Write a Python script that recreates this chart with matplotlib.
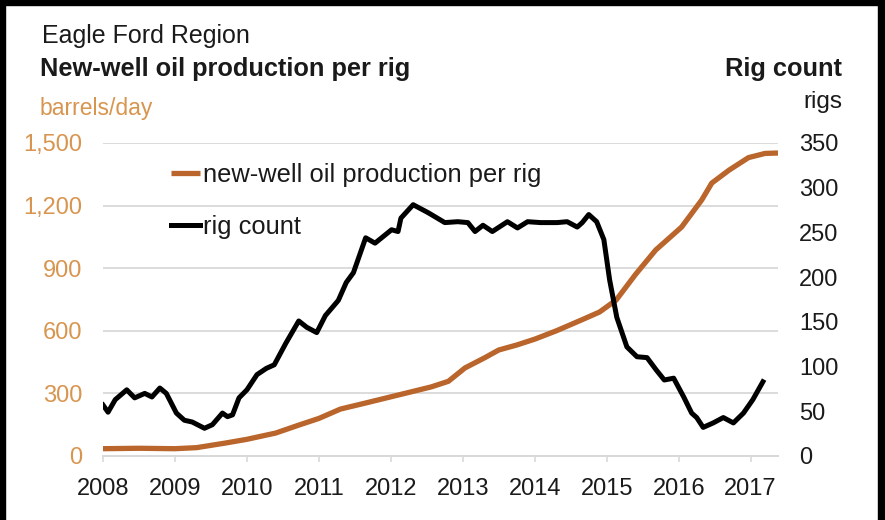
import matplotlib
matplotlib.use("Agg")
import matplotlib.pyplot as plt
from matplotlib.patches import Rectangle

plt.rcParams['font.family'] = ['Liberation Sans', 'DejaVu Sans']

# ---- data ----
prod_years = [2008.0, 2008.5, 2009.0, 2009.3, 2009.7, 2010.0, 2010.4, 2010.72, 2011.0,
              2011.3, 2011.65, 2012.1, 2012.56, 2012.8, 2013.03, 2013.3, 2013.5, 2013.75,
              2014.0, 2014.3, 2014.65, 2014.9, 2015.13, 2015.4, 2015.68, 2016.04, 2016.32,
              2016.46, 2016.7, 2016.97, 2017.2, 2017.38]
prod_values = [35, 37, 35, 40, 62, 80, 110, 148, 180,
               225, 254, 292, 331, 358, 422, 470, 508, 532,
               560, 600, 652, 690, 747, 870, 987, 1097, 1227,
               1308, 1370, 1430, 1450, 1452]

rig_years = [2008.0, 2008.07, 2008.17, 2008.33, 2008.44, 2008.58, 2008.68, 2008.79, 2008.88,
             2009.02, 2009.13, 2009.24, 2009.41, 2009.52, 2009.66, 2009.73, 2009.80, 2009.89,
             2010.0, 2010.14, 2010.27, 2010.38, 2010.54, 2010.72, 2010.83, 2010.97, 2011.09,
             2011.27, 2011.38, 2011.48, 2011.65, 2011.78, 2012.01, 2012.10, 2012.14, 2012.31,
             2012.52, 2012.75, 2012.93, 2013.07, 2013.17, 2013.28, 2013.41, 2013.62, 2013.76,
             2013.90, 2014.08, 2014.31, 2014.45, 2014.59, 2014.66, 2014.75, 2014.86, 2014.96,
             2015.04, 2015.14, 2015.28, 2015.42, 2015.56, 2015.69, 2015.80, 2015.93, 2016.07,
             2016.18, 2016.25, 2016.34, 2016.48, 2016.62, 2016.76, 2016.90, 2017.03, 2017.17]
rig_values = [57, 49, 63, 74, 65, 70, 66, 76, 70,
              48, 40, 38, 31, 35, 48, 44, 46, 65,
              74, 91, 98, 102, 126, 151, 144, 138, 157,
              174, 194, 205, 244, 238, 253, 251, 266, 281,
              272, 261, 262, 261, 251, 258, 251, 262, 255,
              262, 261, 261, 262, 256, 261, 270, 262, 242,
              197, 155, 122, 111, 110, 96, 85, 87, 66,
              48, 43, 32, 37, 43, 37, 48, 63, 83]

year_ticks = list(range(2008, 2018))
left_ticks = [0, 300, 600, 900, 1200, 1500]
left_labels = ['0', '300', '600', '900', '1,200', '1,500']
right_ticks = [0, 50, 100, 150, 200, 250, 300, 350]

ORANGE = '#B9652B'
LIGHT_ORANGE = '#D8954F'
GRID = '#D9D9D9'
TXT = '#1a1a1a'

W, H = 885, 520
fig = plt.figure(figsize=(W / 100, H / 100), dpi=100)
ax = fig.add_axes([103 / W, 1 - 456 / H, 675 / W, 313 / H])
ax2 = ax.twinx()

lp, = ax.plot(prod_years, prod_values, color=ORANGE, lw=3.8, solid_capstyle='butt', zorder=3)
lr, = ax2.plot(rig_years, rig_values, color='black', lw=3.6, solid_joinstyle='round', zorder=3)

ax.set_xlim(2008, 2017.38)
ax.set_ylim(0, 1500)
ax2.set_ylim(0, 350)
ax.set_yticks(left_ticks)
ax.set_yticklabels(left_labels)
ax2.set_yticks(right_ticks)
ax.set_xticks(year_ticks)

ax.grid(axis='y', color=GRID, lw=1.3, zorder=0)
ax.set_axisbelow(True)
for a in (ax, ax2):
    for s in ('top', 'left', 'right'):
        a.spines[s].set_visible(False)
    a.spines['bottom'].set_color(GRID)
    a.spines['bottom'].set_linewidth(1.3)

ax.tick_params(axis='y', length=0, pad=15, labelsize=17, labelcolor=LIGHT_ORANGE)
ax2.tick_params(axis='y', length=0, pad=15, labelsize=17, labelcolor=TXT)
ax.tick_params(axis='x', length=4.5, width=1.2, color=GRID, pad=11, labelsize=17, labelcolor=TXT)

ax.legend([lp, lr], ['new-well oil production per rig', 'rig count'],
          loc='upper left', bbox_to_anchor=(0.085, 0.97), frameon=False,
          fontsize=18.4, handlelength=1.15, handletextpad=0.1, labelspacing=1.1,
          borderaxespad=0, labelcolor=TXT)

fig.text(42 / W, 1 - 43 / H, 'Eagle Ford Region', fontsize=18, color=TXT, va='baseline')
fig.text(40 / W, 1 - 76 / H, 'New-well oil production per rig', fontsize=18.3,
         fontweight='bold', color=TXT, va='baseline')
fig.text(40 / W, 1 - 115 / H, 'barrels/day', fontsize=16.5, color=LIGHT_ORANGE, va='baseline')
fig.text(842 / W, 1 - 76 / H, 'Rig count', fontsize=18.3, fontweight='bold', color=TXT,
         va='baseline', ha='right')
fig.text(842 / W, 1 - 108 / H, 'rigs', fontsize=17.5, color=TXT, va='baseline', ha='right')

# black frame
fig.add_artist(Rectangle((0, 0), 5 / W, 1, transform=fig.transFigure, color='black'))
fig.add_artist(Rectangle((0, 1 - 5 / H), 1, 5 / H, transform=fig.transFigure, color='black'))
fig.add_artist(Rectangle((878 / W, 0), 7 / W, 1, transform=fig.transFigure, color='black'))

fig.savefig('out.png', dpi=100)
